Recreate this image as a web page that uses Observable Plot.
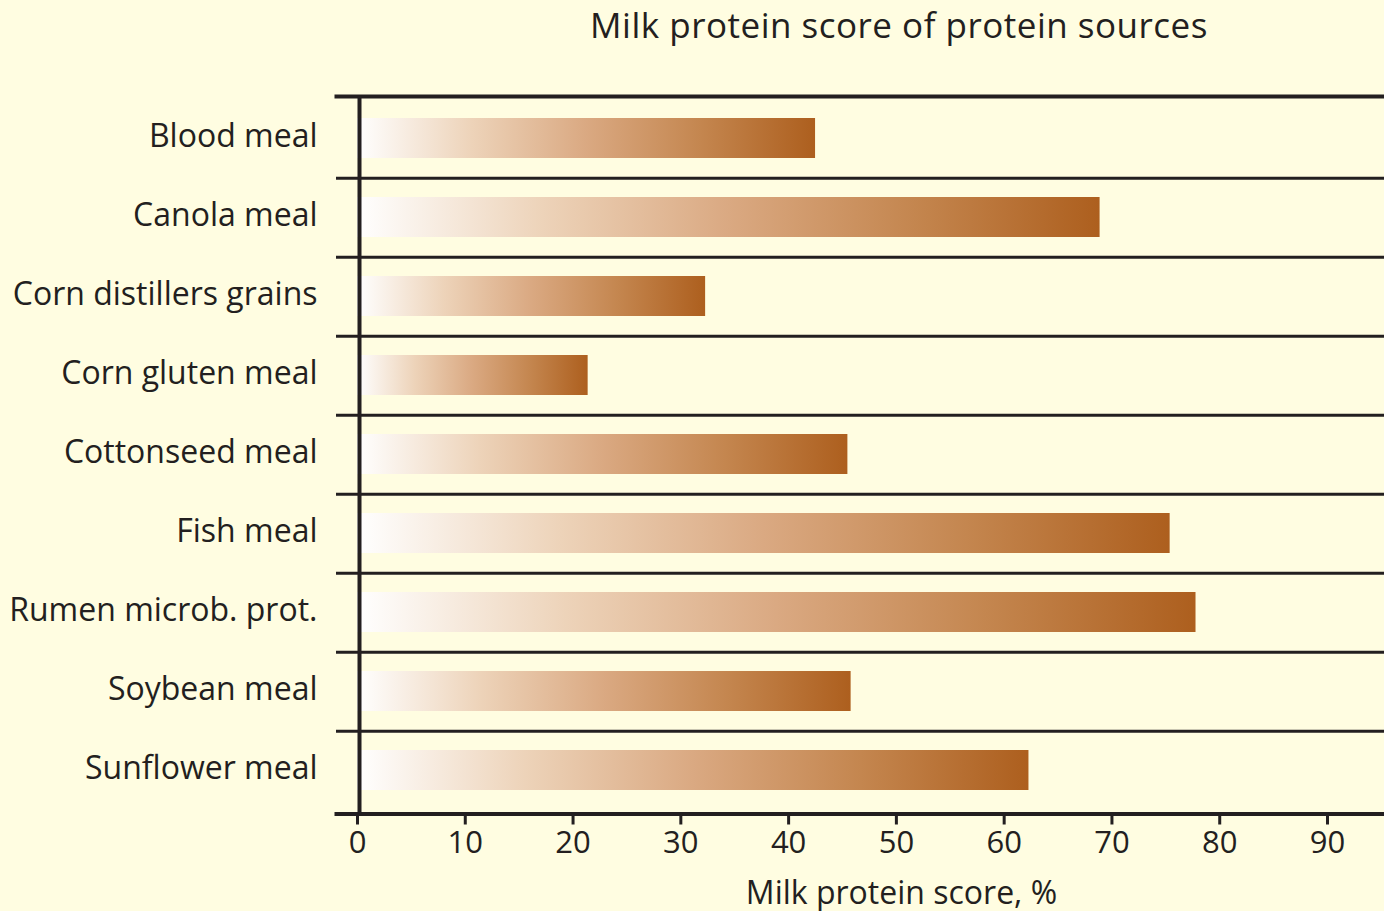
<!DOCTYPE html>
<html>
<head>
<meta charset="utf-8">
<script src="https://cdn.jsdelivr.net/npm/d3@7"></script>
<script src="https://cdn.jsdelivr.net/npm/@observablehq/plot@0.6"></script>
<style>
  html, body { margin: 0; padding: 0; background: #fffde1; }
  body { width: 1384px; height: 911px; overflow: hidden; position: relative; font-family: "Open Sans", sans-serif; color: #231f20; }
  #title { position: absolute; left: 899px; top: 3px; transform: translateX(-50%); white-space: nowrap; font-size: 35px; line-height: 44px; letter-spacing: 0.5px; }
  #chart { position: absolute; left: 0; top: 62px; }
</style>
</head>
<body>
<div id="title">Milk protein score of protein sources</div>
<div id="chart"></div>
<script>
const categories = ["Blood meal", "Canola meal", "Corn distillers grains", "Corn gluten meal", "Cottonseed meal", "Fish meal", "Rumen microb. prot.", "Soybean meal", "Sunflower meal"];
const values = [42.5, 68.9, 32.3, 21.4, 45.5, 75.4, 77.8, 45.8, 62.3];
const xTicks = [0, 10, 20, 30, 40, 50, 60, 70, 80, 90];
const xLabel = "Milk protein score, %";

const data = categories.map((name, i) => ({name, value: values[i]}));

const W = 1384, H = 849, mTop = 34, mBottom = 97.5, mLeft = 357, mRight = 57;
const step = (H - mTop - mBottom) / categories.length;
const ink = "#231f20";
const font = "'Open Sans', sans-serif";

const gradientDefs = () => {
  const defs = d3.create("svg:defs");
  const g = defs.append("linearGradient").attr("id", "barGrad").attr("x1", 0).attr("x2", 1).attr("y1", 0).attr("y2", 0);
  [[0, "#ffffff"], [0.25, "#edd3b9"], [0.5, "#daa982"], [0.75, "#c4864f"], [1, "#ad5f1e"]]
    .forEach(([o, c]) => g.append("stop").attr("offset", o).attr("stop-color", c));
  return defs.node();
};

const chart = Plot.plot({
  width: W, height: H,
  marginTop: mTop, marginBottom: mBottom, marginLeft: mLeft, marginRight: mRight,
  style: {background: "transparent", fontFamily: font, color: ink, overflow: "visible"},
  x: {domain: [0, 90], ticks: xTicks, label: null},
  y: {domain: categories, padding: 0, label: null},
  marks: [
    gradientDefs,
    Plot.barX(data, {x: "value", y: "name", fill: "url(#barGrad)", insetTop: 19, insetBottom: 20}),
    Plot.ruleY(categories.slice(1), {y: d => d, dy: -step / 2, stroke: ink, strokeWidth: 3, insetLeft: -21, insetRight: -mRight}),
    Plot.frame({anchor: "top", stroke: ink, strokeWidth: 4, insetLeft: -21, insetRight: -mRight}),
    Plot.frame({anchor: "bottom", stroke: ink, strokeWidth: 4, insetLeft: -21, insetRight: -mRight}),
    Plot.ruleX([0], {dx: 2, stroke: ink, strokeWidth: 4}),
    Plot.axisX({ticks: xTicks, tickSize: 11, tickPadding: 6, strokeWidth: 3, stroke: ink, fontSize: 31, fill: ink, label: null}),
    Plot.axisY({tickSize: 0, tickPadding: 40, fontSize: 32, fill: ink, label: null, dy: -2}),
    Plot.text([xLabel], {frameAnchor: "bottom", dx: 59, dy: 90, fontSize: 32, fill: ink, lineAnchor: "bottom"})
  ]
});
document.getElementById("chart").appendChild(chart);
</script>
</body>
</html>
